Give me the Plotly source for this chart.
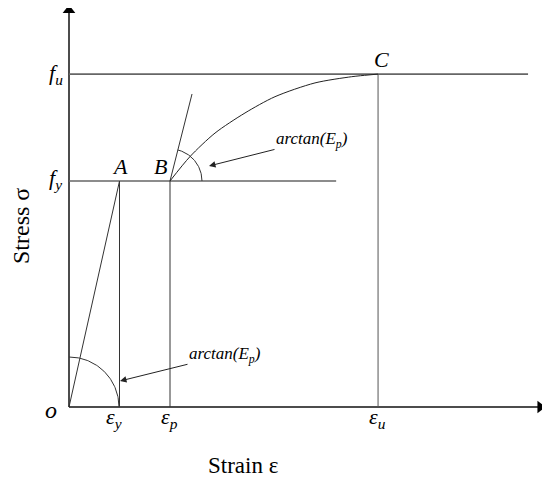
import numpy as np
import plotly.graph_objects as go

# ---- data (conceptual units) ----
eps_y, eps_p, eps_u = 1.0, 2.0, 6.12
f_y, f_u = 1.0, 1.473
# hardening curve B -> C
curve_strain = [2.0, 2.396, 2.891, 3.485, 4.079, 4.871, 5.598, 5.921, 6.12]
curve_stress = [1.0, 1.108, 1.212, 1.301, 1.373, 1.434, 1.4615, 1.469, 1.473]
# tangent line at B
tan_strain = [2.0, 2.436]
tan_stress = [1.0, 1.385]
x_axis_end, y_axis_end = 9.33, 1.755
fu_line_end, fy_line_end = 9.09, 5.29

# page has an 8px body margin: figure occupies page pixels 8..550 / 8..481
OFF = 8
W, H = 550 - OFF, 481 - OFF
PXX, PXY = 50.5, 226.0          # pixels per unit
X0, Y0 = 69 - OFF, 407 - OFF      # origin in figure pixels
xr = [-X0 / PXX, (W - X0) / PXX]
yr = [-(H - Y0) / PXY, Y0 / PXY]
pxx, pxy = PXX, PXY

FONT = "Liberation Serif, Times New Roman, serif"
fig = go.Figure()

def line(xs, ys, color="#222", width=1.0):
    fig.add_trace(go.Scatter(x=xs, y=ys, mode="lines",
                             line=dict(color=color, width=width),
                             hoverinfo="skip", showlegend=False))

# axes
line([0, x_axis_end], [0, 0], "#111", 1.5)
line([0, 0], [0, y_axis_end], "#111", 1.5)
fig.add_trace(go.Scatter(x=[x_axis_end], y=[0], mode="markers",
                         marker=dict(symbol="triangle-right", size=11, color="black"),
                         hoverinfo="skip", showlegend=False, cliponaxis=False))
fig.add_trace(go.Scatter(x=[0], y=[y_axis_end], mode="markers",
                         marker=dict(symbol="triangle-up", size=11, color="black"),
                         hoverinfo="skip", showlegend=False, cliponaxis=False))

# horizontal levels
line([0, fu_line_end], [f_u, f_u], "#666", 1.6)
line([0, fy_line_end], [f_y, f_y], "#666", 1.6)
# verticals
line([eps_y, eps_y], [0, f_y], "#333", 1.0)
line([eps_p, eps_p], [0, f_y], "#333", 1.0)
line([eps_u, eps_u], [0, f_u], "#555", 1.0)
# elastic line
line([0, eps_y], [0, f_y], "#333", 1.0)
# tangent at B
line(tan_strain, tan_stress, "#333", 1.0)
# hardening curve
fig.add_trace(go.Scatter(x=curve_strain, y=curve_stress, mode="lines",
                         line=dict(color="#222", width=1.0, shape="spline", smoothing=0.8),
                         hoverinfo="skip", showlegend=False))

# angle arcs (pixel radii)
def arc(cx, cy, r, a0, a1):
    t = np.linspace(a0, a1, 60)
    line(cx + r * np.cos(t) / pxx, cy + r * np.sin(t) / pxy, "#333", 1.0)

arc(0, 0, 50, 0, np.pi / 2)
ang_b = np.arctan2((tan_stress[1] - tan_stress[0]) * pxy, (tan_strain[1] - tan_strain[0]) * pxx)
arc(eps_p, f_y, 32, 0, ang_b)

def px2x(p):
    return (p - OFF - X0) / PXX

def px2y(p):
    return (Y0 - (p - OFF)) / PXY

def txt(px, py, s, size=22):
    fig.add_annotation(x=px2x(px), y=px2y(py), text=s, showarrow=False,
                       xanchor="center", yanchor="middle",
                       font=dict(family=FONT, size=size, color="black"))

txt(56, 74, "<i>f<sub>u</sub></i>", 22)
txt(55, 179, "<i>f<sub>y</sub></i>", 22)
txt(120, 166, "<i>A</i>", 22)
txt(160, 166, "<i>B</i>", 22)
txt(381, 59, "<i>C</i>", 22)
txt(51, 410, "<i>o</i>", 24)
txt(114, 418, "<i>ε<sub>y</sub></i>", 22)
txt(169, 418, "<i>ε<sub>p</sub></i>", 22)
txt(377, 418, "<i>ε<sub>u</sub></i>", 22)
txt(243, 465, "Strain ε", 23)
fig.add_annotation(x=px2x(21), y=px2y(226), text="Stress σ", showarrow=False, textangle=-90,
                   font=dict(family=FONT, size=24, color="black"))

# arrows with labels
for (tx, ty), (hx, hy) in [((225, 355), (120, 381)), ((312, 140), (209, 166))]:
    fig.add_annotation(x=px2x(hx), y=px2y(hy), ax=px2x(tx), ay=px2y(ty),
                       axref="x", ayref="y", xref="x", yref="y",
                       text="<i>arctan(E<sub>p</sub>)</i>", showarrow=True,
                       arrowhead=2, arrowsize=1.3, arrowwidth=1, arrowcolor="#222",
                       font=dict(family=FONT, size=17, color="black"))

fig.update_layout(width=W, height=H, margin=dict(l=0, r=0, t=0, b=0),
                  paper_bgcolor="white", plot_bgcolor="white", showlegend=False,
                  xaxis=dict(range=xr, visible=False, fixedrange=True),
                  yaxis=dict(range=yr, visible=False, fixedrange=True))
fig.write_html("out.html")
